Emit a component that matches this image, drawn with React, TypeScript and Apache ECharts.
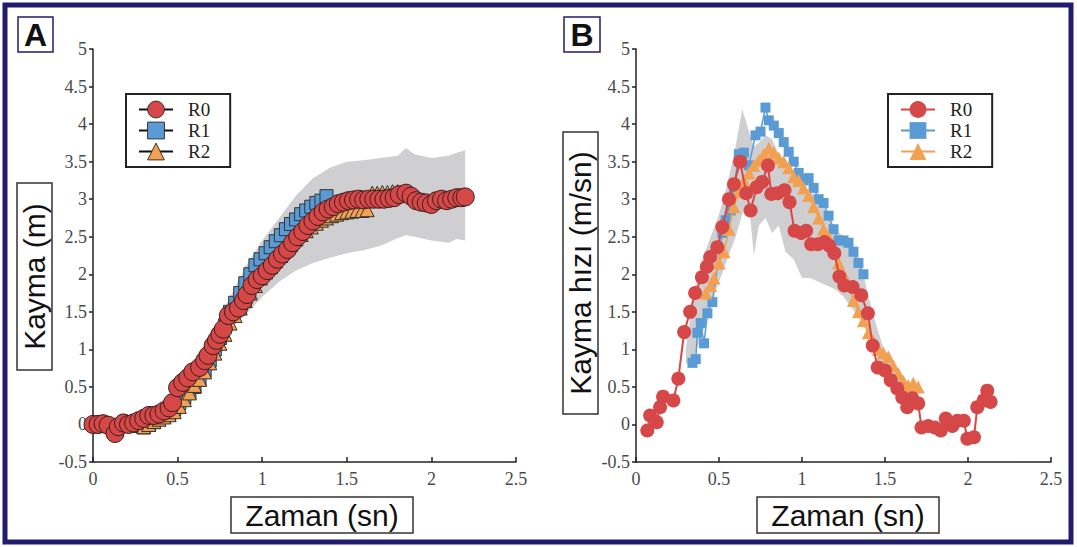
import React, { useEffect, useRef } from 'react';
import * as echarts from 'echarts';

// ---------- Panel A: Kayma (m) ----------
const A_R0_T = [0, 0.03, 0.06, 0.09, 0.13, 0.15, 0.18, 0.21, 0.24, 0.27, 0.3, 0.33, 0.36, 0.39, 0.42, 0.45, 0.47, 0.5, 0.53, 0.56, 0.59, 0.63, 0.66, 0.68, 0.71, 0.73, 0.75, 0.77, 0.8, 0.83, 0.86, 0.89, 0.91, 0.94, 0.97, 1.0, 1.03, 1.06, 1.09, 1.12, 1.15, 1.18, 1.21, 1.24, 1.27, 1.3, 1.33, 1.36, 1.39, 1.42, 1.45, 1.48, 1.51, 1.54, 1.57, 1.6, 1.63, 1.66, 1.69, 1.72, 1.75, 1.78, 1.81, 1.85, 1.88, 1.91, 1.94, 1.97, 2.0, 2.03, 2.06, 2.09, 2.12, 2.15, 2.18, 2.2];
const A_R0_V = [0, 0, 0.01, -0.01, -0.12, -0.03, 0.02, 0, 0.02, 0.05, 0.08, 0.12, 0.12, 0.14, 0.18, 0.22, 0.29, 0.49, 0.56, 0.62, 0.7, 0.76, 0.85, 0.92, 1.05, 1.12, 1.2, 1.27, 1.45, 1.5, 1.55, 1.65, 1.73, 1.85, 1.93, 1.98, 2.05, 2.12, 2.2, 2.27, 2.33, 2.42, 2.5, 2.57, 2.65, 2.71, 2.77, 2.83, 2.87, 2.9, 2.94, 2.96, 2.98, 2.99, 3.0, 2.99, 3.0, 3.0, 3.0, 3.0, 3.01, 3.02, 3.06, 3.08, 3.04, 2.98, 2.96, 2.95, 2.93, 2.98, 3.0, 2.98, 3.0, 3.02, 3.02, 3.03];

const A_R1_T = [0.27, 0.3, 0.33, 0.36, 0.39, 0.42, 0.45, 0.48, 0.51, 0.54, 0.57, 0.6, 0.63, 0.66, 0.69, 0.72, 0.75, 0.78, 0.81, 0.84, 0.87, 0.9, 0.93, 0.96, 0.99, 1.02, 1.05, 1.08, 1.11, 1.14, 1.17, 1.2, 1.23, 1.26, 1.29, 1.32, 1.35, 1.38];
const A_R1_V = [-0.02, -0.04, 0, 0.03, 0.07, 0.1, 0.14, 0.2, 0.28, 0.36, 0.42, 0.5, 0.6, 0.72, 0.85, 1.0, 1.15, 1.32, 1.5, 1.62, 1.75, 1.88, 2.0, 2.12, 2.2, 2.28, 2.36, 2.44, 2.52, 2.6, 2.67, 2.73, 2.8, 2.85, 2.9, 2.95, 2.98, 3.04];

const A_R2_T = [0.3, 0.33, 0.36, 0.39, 0.42, 0.45, 0.48, 0.51, 0.54, 0.57, 0.6, 0.63, 0.66, 0.69, 0.72, 0.75, 0.78, 0.81, 0.84, 0.87, 0.9, 0.93, 0.96, 0.99, 1.02, 1.05, 1.08, 1.11, 1.14, 1.17, 1.2, 1.23, 1.26, 1.29, 1.32, 1.35, 1.38, 1.41, 1.44, 1.47, 1.5, 1.53, 1.56, 1.59, 1.62, 1.65, 1.68, 1.71, 1.74, 1.77, 1.8];
const A_R2_V = [-0.03, 0, 0.04, 0.07, 0.1, 0.13, 0.17, 0.24, 0.33, 0.42, 0.52, 0.6, 0.7, 0.82, 0.95, 1.08, 1.2, 1.35, 1.45, 1.55, 1.65, 1.75, 1.85, 1.95, 2.03, 2.1, 2.18, 2.25, 2.33, 2.4, 2.47, 2.53, 2.58, 2.63, 2.68, 2.72, 2.75, 2.78, 2.8, 2.82, 2.83, 2.84, 2.85, 2.85, 2.86, 3.08, 3.08, 3.09, 3.09, 3.1, 3.1];

const A_BAND_T = [0.6, 0.7, 0.8, 0.9, 1.0, 1.1, 1.2, 1.3, 1.4, 1.5, 1.6, 1.7, 1.8, 1.85, 1.9, 2.0, 2.1, 2.15, 2.2];
const A_BAND_HI = [0.8, 1.2, 1.65, 2.1, 2.45, 2.75, 3.05, 3.28, 3.42, 3.5, 3.52, 3.55, 3.58, 3.68, 3.6, 3.55, 3.58, 3.62, 3.65];
const A_BAND_LO = [0.7, 0.95, 1.25, 1.45, 1.7, 1.9, 2.05, 2.15, 2.22, 2.28, 2.32, 2.38, 2.48, 2.52, 2.5, 2.45, 2.42, 2.47, 2.45];

// ---------- Panel B: Kayma hızı (m/sn) ----------
const B_R0_T = [0.068, 0.085, 0.125, 0.145, 0.163, 0.225, 0.255, 0.29, 0.326, 0.356, 0.397, 0.427, 0.447, 0.49, 0.52, 0.56, 0.59, 0.627, 0.664, 0.69, 0.727, 0.76, 0.795, 0.815, 0.853, 0.895, 0.925, 0.955, 0.995, 1.025, 1.055, 1.095, 1.135, 1.165, 1.195, 1.225, 1.255, 1.305, 1.357, 1.397, 1.426, 1.456, 1.5, 1.534, 1.574, 1.604, 1.634, 1.664, 1.7, 1.72, 1.76, 1.8, 1.836, 1.866, 1.906, 1.936, 1.975, 1.996, 2.036, 2.056, 2.094, 2.116, 2.136];
const B_R0_V = [-0.08, 0.12, 0.03, 0.23, 0.37, 0.32, 0.61, 1.23, 1.5, 1.75, 1.96, 2.1, 2.23, 2.36, 2.63, 3.0, 3.2, 3.5, 3.08, 2.85, 3.16, 3.23, 3.45, 3.07, 3.08, 3.12, 2.96, 2.58, 2.55, 2.58, 2.4, 2.4, 2.43, 2.38, 2.28, 1.97, 1.85, 1.83, 1.72, 1.48, 1.05, 0.76, 0.72, 0.59, 0.48, 0.36, 0.23, 0.35, 0.28, -0.04, -0.02, -0.04, -0.08, 0.08, -0.02, 0.05, 0.05, -0.19, -0.17, 0.23, 0.32, 0.45, 0.3];

const B_R1_T = [0.34, 0.36, 0.37, 0.39, 0.41, 0.43, 0.46, 0.52, 0.54, 0.57, 0.59, 0.62, 0.65, 0.68, 0.72, 0.75, 0.78, 0.8, 0.83, 0.86, 0.89, 0.92, 0.95, 0.98, 1.01, 1.04, 1.07, 1.1, 1.13, 1.16, 1.19, 1.22, 1.25, 1.28, 1.31, 1.34, 1.37];
const B_R1_V = [0.82, 0.87, 1.22, 1.35, 1.08, 1.48, 1.63, 2.55, 2.72, 2.85, 3.16, 3.6, 3.62, 3.45, 3.85, 3.9, 4.22, 4.05, 3.98, 3.88, 3.76, 3.63, 3.5, 3.35, 3.25, 3.28, 3.15, 3.0, 2.95, 2.78, 2.6, 2.45, 2.45, 2.42, 2.3, 2.15, 2.0];

const B_R2_T = [0.42, 0.45, 0.47, 0.5, 0.53, 0.56, 0.59, 0.62, 0.65, 0.68, 0.71, 0.74, 0.77, 0.8, 0.83, 0.86, 0.89, 0.92, 0.95, 0.98, 1.01, 1.04, 1.07, 1.1, 1.13, 1.16, 1.19, 1.22, 1.25, 1.28, 1.31, 1.34, 1.37, 1.4, 1.43, 1.46, 1.49, 1.52, 1.55, 1.58, 1.61, 1.64, 1.67, 1.7];
const B_R2_V = [1.75, 1.85, 1.95, 2.15, 2.3, 2.6, 2.9, 3.1, 3.25, 3.35, 3.45, 3.52, 3.6, 3.68, 3.62, 3.55, 3.5, 3.42, 3.3, 3.25, 3.15, 3.05, 2.9, 2.75, 2.6, 2.5, 2.35, 2.15, 2.0, 1.85, 1.65, 1.5, 1.38, 1.22, 1.1, 1.0, 0.95, 0.9, 0.78, 0.68, 0.58, 0.52, 0.55, 0.5];

const B_BAND_T = [0.3, 0.35, 0.4, 0.45, 0.5, 0.55, 0.6, 0.64, 0.68, 0.71, 0.74, 0.78, 0.82, 0.86, 0.9, 0.95, 1.0, 1.05, 1.1, 1.15, 1.2, 1.25, 1.3, 1.35, 1.4, 1.45, 1.5, 1.55, 1.6];
const B_BAND_HI = [1.0, 1.8, 2.2, 2.5, 2.8, 3.2, 3.7, 4.2, 3.9, 3.7, 3.75, 3.85, 3.8, 3.6, 3.45, 3.35, 3.2, 3.1, 3.0, 2.85, 2.6, 2.5, 2.4, 2.2, 1.7, 1.3, 0.95, 0.8, 0.6];
const B_BAND_LO = [0.8, 0.9, 1.2, 1.6, 1.9, 2.2, 2.5, 2.8, 2.95, 2.25, 2.65, 2.75, 2.55, 2.65, 2.3, 2.2, 1.95, 1.95, 1.9, 1.85, 1.8, 1.7, 1.55, 1.4, 1.2, 0.9, 0.65, 0.55, 0.45];

const X_MIN = 0, X_MAX = 2.5, X_STEP = 0.5;
const Y_MIN = -0.5, Y_MAX = 5, Y_STEP = 0.5;
const SERIES_NAMES = ['R0', 'R1', 'R2'];

const RED = '#d64747';
const BLUE = '#5b9bd5';
const ORANGE = '#f2a052';
const BAND = '#cfcfd1';
const NAVY = '#221c6e';
const SERIF = 'Liberation Serif';
const SANS = 'Liberation Sans';

const zip = (t: number[], v: number[]) => t.map((x, i) => [x, v[i]]);

function bandSeries(idx: number, t: number[], lo: number[], hi: number[]) {
  return {
    type: 'custom',
    xAxisIndex: idx,
    yAxisIndex: idx,
    silent: true,
    z: 1,
    data: t.map((x, i) => [x, lo[i], hi[i]]),
    encode: { x: 0, y: [1, 2] },
    renderItem: (params: any, api: any) => {
      if (params.dataIndex !== 0) return null;
      const top = t.map((x, i) => api.coord([x, hi[i]]));
      const bot = t.map((x, i) => api.coord([x, lo[i]])).reverse();
      return { type: 'polygon', shape: { points: top.concat(bot) }, style: { fill: BAND } };
    },
  };
}

function axisPair(idx: number) {
  const x = {
    type: 'value', gridIndex: idx, min: X_MIN, max: X_MAX, interval: X_STEP,
    splitLine: { show: false },
    axisLine: { show: true, onZero: false, lineStyle: { color: '#222', width: 1.5 } },
    axisTick: { show: true, inside: true, length: 5, lineStyle: { color: '#222', width: 1.5 } },
    axisLabel: { fontFamily: SERIF, fontSize: 18, color: '#4a4a4a', margin: 8 },
  };
  const y = {
    type: 'value', gridIndex: idx, min: Y_MIN, max: Y_MAX, interval: Y_STEP,
    splitLine: { show: false },
    axisLine: { show: true, onZero: false, lineStyle: { color: '#222', width: 1.5 } },
    axisTick: { show: true, inside: false, length: 4, lineStyle: { color: '#222', width: 1.5 } },
    axisLabel: { fontFamily: SERIF, fontSize: 18, color: '#4a4a4a', margin: 6 },
  };
  return { x, y };
}

function boxedText(x: number, y: number, w: number, h: number, text: string, fontSize: number, vertical: boolean, bold = false, stroke = '#333') {
  return {
    type: 'group',
    children: [
      { type: 'rect', shape: { x, y, width: w, height: h }, style: { fill: '#fff', stroke, lineWidth: 1.5 } },
      {
        type: 'text', x: x + w / 2, y: y + h / 2, rotation: vertical ? Math.PI / 2 : 0,
        style: { text, fontFamily: SANS, fontSize, fontWeight: bold ? 'bold' : 'normal', fill: '#111', align: 'center', verticalAlign: 'middle' },
      },
    ],
  };
}

function legendFor(left: number, panelA: boolean) {
  const colors = [RED, BLUE, ORANGE];
  return {
    orient: 'vertical', left, top: 94, selectedMode: false,
    itemWidth: 34, itemHeight: 21, itemGap: 2,
    padding: [6, 20, 6, 12],
    borderColor: '#222', borderWidth: 2, backgroundColor: '#fff',
    textStyle: { fontFamily: SERIF, fontSize: 19, color: '#222', padding: [0, 0, 0, 10] },
    data: SERIES_NAMES.map((name, i) => ({
      name,
      itemStyle: panelA
        ? { color: colors[i], borderColor: '#333', borderWidth: 1 }
        : { color: colors[i], borderWidth: 0 },
      lineStyle: { color: panelA ? '#111' : colors[i], width: 2 },
    })),
  };
}

export default function App() {
  const ref = useRef<HTMLDivElement>(null);
  useEffect(() => {
    document.body.style.margin = '0';
    if (!ref.current) return;
    const chart = echarts.init(ref.current, null, { renderer: 'svg' });
    const a = axisPair(0);
    const b = axisPair(1);
    const lineA = { color: '#222', width: 1 };
    const option: any = {
      animation: false,
      backgroundColor: '#fff',
      grid: [
        { left: 93, top: 49, width: 423, height: 413 },
        { left: 636, top: 49, width: 415, height: 413 },
      ],
      xAxis: [a.x, b.x],
      yAxis: [a.y, b.y],
      legend: [legendFor(126, true), legendFor(888, false)],
      series: [
        bandSeries(0, A_BAND_T, A_BAND_LO, A_BAND_HI),
        { name: 'R1', type: 'line', xAxisIndex: 0, yAxisIndex: 0, data: zip(A_R1_T, A_R1_V), symbol: 'rect', symbolSize: 13, z: 3,
          itemStyle: { color: BLUE, borderColor: '#333', borderWidth: 1 }, lineStyle: lineA },
        { name: 'R2', type: 'line', xAxisIndex: 0, yAxisIndex: 0, data: zip(A_R2_T, A_R2_V), symbol: 'triangle', symbolSize: 14, z: 4,
          itemStyle: { color: ORANGE, borderColor: '#333', borderWidth: 1 }, lineStyle: lineA },
        { name: 'R0', type: 'line', xAxisIndex: 0, yAxisIndex: 0, data: zip(A_R0_T, A_R0_V), symbol: 'circle', symbolSize: 18, z: 5,
          itemStyle: { color: RED, borderColor: '#3a1c1c', borderWidth: 1 }, lineStyle: lineA },
        bandSeries(1, B_BAND_T, B_BAND_LO, B_BAND_HI),
        { name: 'R1', type: 'line', xAxisIndex: 1, yAxisIndex: 1, data: zip(B_R1_T, B_R1_V), symbol: 'rect', symbolSize: 10, z: 3,
          itemStyle: { color: BLUE }, lineStyle: { color: BLUE, width: 1.5 } },
        { name: 'R2', type: 'line', xAxisIndex: 1, yAxisIndex: 1, data: zip(B_R2_T, B_R2_V), symbol: 'triangle', symbolSize: 13, z: 4,
          itemStyle: { color: ORANGE }, lineStyle: { color: ORANGE, width: 1.5 } },
        { name: 'R0', type: 'line', xAxisIndex: 1, yAxisIndex: 1, data: zip(B_R0_T, B_R0_V), symbol: 'circle', symbolSize: 14, z: 5,
          itemStyle: { color: RED }, lineStyle: { color: RED, width: 2 } },
      ],
      graphic: [
        { type: 'rect', shape: { x: 5, y: 5, width: 1066, height: 537 }, style: { fill: 'none', stroke: NAVY, lineWidth: 5 }, z: 100 },
        boxedText(18, 17, 35, 35, 'A', 32, false, true, NAVY),
        boxedText(564, 17, 36, 35, 'B', 32, false, true, NAVY),
        boxedText(17, 183, 35, 187, 'Kayma (m)', 30, true),
        boxedText(231, 497, 182, 36, 'Zaman (sn)', 30, false),
        boxedText(563, 132, 35, 282, 'Kayma hızı (m/sn)', 30, true),
        boxedText(757, 497, 182, 36, 'Zaman (sn)', 30, false),
      ],
    };
    chart.setOption(option);
    return () => chart.dispose();
  }, []);
  return <div ref={ref} style={{ width: 1077, height: 547 }} />;
}
